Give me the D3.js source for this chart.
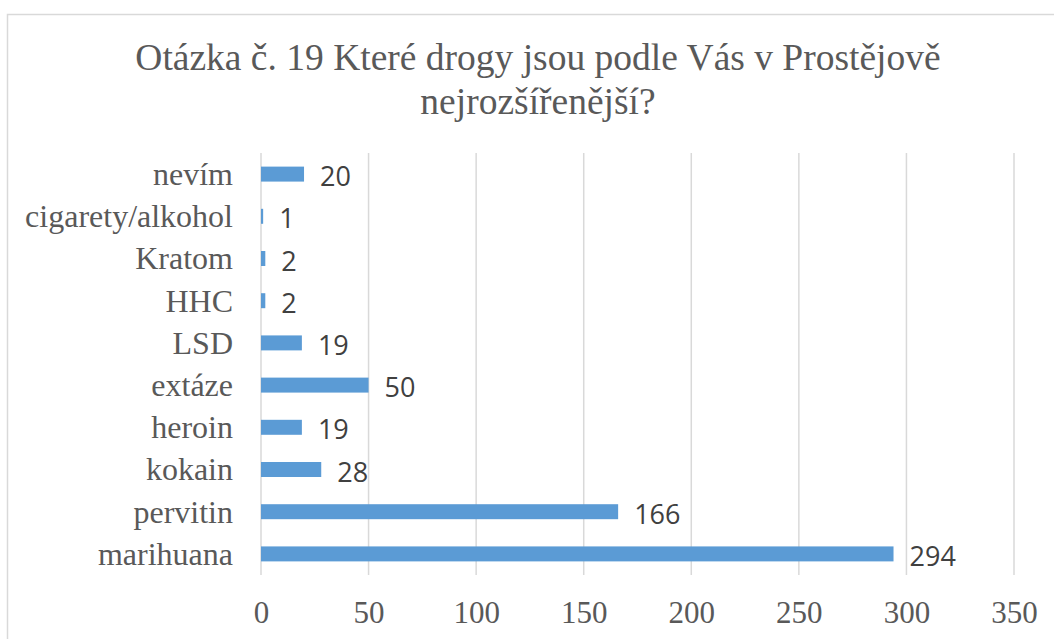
<!DOCTYPE html>
<html>
<head>
<meta charset="utf-8">
<script src="https://cdn.jsdelivr.net/npm/d3@7"></script>
<style>
  body { margin: 0; background: #fff; }
</style>
</head>
<body>
<div id="chart"></div>
<script>
const width = 1054
const height = 639

// data (bottom to top in the picture)
const categories = ["marihuana", "pervitin", "kokain", "heroin", "extáze", "LSD", "HHC", "Kratom", "cigarety/alkohol", "nevím"]
const values = [294, 166, 28, 19, 50, 19, 2, 2, 1, 20]
const xTicks = [0, 50, 100, 150, 200, 250, 300, 350]
const titleLines = ["Otázka č. 19 Které drogy jsou podle Vás v Prostějově", "nejrozšířenější?"]

const plot = { left: 261, right: 1014, top: 153, bottom: 575 }

const data = categories.map((c, i) => ({ cat: c, val: values[i] }))

const svg = d3.select("#chart")
    .append("svg")
    .attr("width", width)
    .attr("height", height)

// chart border
svg.append("rect")
    .attr("x", 7.5).attr("y", 14.5)
    .attr("width", 1100).attr("height", 700)
    .attr("fill", "#fff")
    .attr("stroke", "#d9d9d9")
    .attr("stroke-width", 1.5)

// title
svg.append("text")
    .attr("text-anchor", "middle")
    .attr("font-family", "Liberation Serif")
    .attr("font-size", 37.5)
    .attr("fill", "#595959")
    .selectAll("tspan")
    .data(titleLines)
    .join("tspan")
        .attr("x", 538)
        .attr("y", (d, i) => 70 + i * 44)
        .text(d => d)

var x = d3.scaleLinear().domain([0, 350]).range([plot.left, plot.right])
var y = d3.scaleBand()
    .domain(categories.slice().reverse())
    .range([plot.top, plot.bottom])
    .paddingInner(0.645)
    .paddingOuter(0.3225)

// gridlines
svg.append("g").selectAll("line")
    .data(xTicks)
    .join("line")
        .attr("x1", d => x(d)).attr("x2", d => x(d))
        .attr("y1", plot.top).attr("y2", plot.bottom)
        .attr("stroke", "#d9d9d9")
        .attr("stroke-width", 1.5)

// x axis labels
const xAxisGroup = svg.append("g")
    .attr("transform", `translate(0, ${plot.bottom})`)
    .call(d3.axisBottom(x).tickValues(xTicks).tickSize(0).tickPadding(0))
xAxisGroup.select(".domain").remove()
xAxisGroup.selectAll("text")
    .attr("dy", null)
    .attr("y", 48)
    .attr("font-family", "Liberation Serif")
    .attr("font-size", 31)
    .attr("fill", "#595959")

// y axis labels
const yAxisGroup = svg.append("g")
    .attr("transform", `translate(${plot.left}, 0)`)
    .call(d3.axisLeft(y).tickSize(0).tickPadding(28))
yAxisGroup.select(".domain").remove()
yAxisGroup.selectAll("text")
    .attr("dy", "0.34em")
    .attr("font-family", "Liberation Serif")
    .attr("font-size", 32)
    .attr("fill", "#595959")

// bars
svg.append("g").selectAll("rect")
    .data(data)
    .join("rect")
        .attr("x", x(0))
        .attr("y", d => y(d.cat))
        .attr("width", d => x(d.val) - x(0))
        .attr("height", y.bandwidth())
        .attr("fill", "#5b9bd5")

// value labels
svg.append("g").selectAll("text")
    .data(data)
    .join("text")
        .text(d => d.val)
        .attr("x", d => x(d.val) + 16)
        .attr("y", d => y(d.cat) + y.bandwidth() / 2 + 12)
        .attr("font-family", "Open Sans")
        .attr("font-size", 27)
        .attr("fill", "#404040")
</script>
</body>
</html>
